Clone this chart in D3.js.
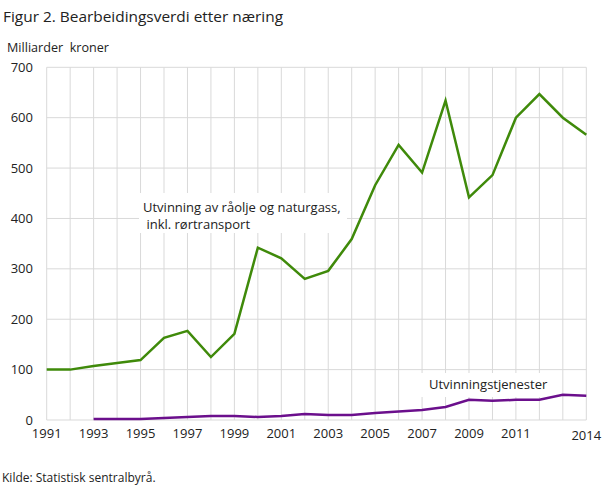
<!DOCTYPE html>
<html><head><meta charset="utf-8">
<script src="https://cdn.jsdelivr.net/npm/d3@7"></script>
<style>body{margin:0;background:#fff;} text{font-family:"Open Sans",sans-serif;}</style>
</head><body>
<svg id="c" width="609" height="488"></svg>
<script>
const years = d3.range(1991, 2015);
const olje = [100,100,107,113,119,163,177,125,171,342,321,280,296,359,466,546,491,634,442,486,600,647,600,566];
const tjenesterYears = d3.range(1993, 2015);
const tjenester = [2,2,2,4,6,8,8,6,8,12,10,10,14,17,20,26,40,38,40,40,50,48];
const yTicks = [0,100,200,300,400,500,600,700];
const xTickLabels = [1991,1993,1995,1997,1999,2001,2003,2005,2007,2009,2011,2014];

const svg = d3.select("#c");
const x = d3.scaleLinear().domain([1991,2014]).range([46.7,586.3]);
const y = d3.scaleLinear().domain([0,700]).range([420,67.3]);

svg.append("text").attr("x",3).attr("y",22).attr("font-size",15.2).attr("fill","#222")
 .attr("textLength",280).attr("lengthAdjust","spacingAndGlyphs").text("Figur 2. Bearbeidingsverdi etter næring");
svg.append("text").attr("x",7).attr("y",52).attr("font-size",12.5).attr("fill","#222").attr("xml:space","preserve")
 .attr("textLength",102).attr("lengthAdjust","spacingAndGlyphs").text("Milliarder  kroner");

const g = svg.append("g");
g.selectAll(".hg").data(yTicks).join("line").attr("x1",x(1991)).attr("x2",x(2014))
 .attr("y1",d=>y(d)).attr("y2",d=>y(d)).attr("stroke","#d9d9d9").attr("stroke-width",1);
g.selectAll(".vg").data(years).join("line").attr("x1",d=>x(d)).attr("x2",d=>x(d))
 .attr("y1",y(700)).attr("y2",y(0)).attr("stroke","#d9d9d9").attr("stroke-width",1);

// label boxes hiding grid
svg.append("rect").attr("x",139).attr("y",193).attr("width",208).attr("height",40).attr("fill","#fff");
svg.append("rect").attr("x",418).attr("y",373).attr("width",132).attr("height",24).attr("fill","#fff");

svg.selectAll(".yl").data(yTicks).join("text").attr("x",33).attr("y",d=>y(d)+4.5)
 .attr("text-anchor","end").attr("font-size",13).attr("fill","#222").text(d=>d);
svg.selectAll(".xl").data(xTickLabels).join("text").attr("x",d=>x(d)).attr("y",d=>d===2014?440:438)
 .attr("text-anchor","middle").attr("font-size",13).attr("fill","#222").text(d=>d);

const line = d3.line().x(d=>x(d[0])).y(d=>y(d[1]));
svg.append("path").datum(tjenesterYears.map((yr,i)=>[yr,tjenester[i]])).attr("d",line)
 .attr("fill","none").attr("stroke","#6b0f8c").attr("stroke-width",2.5);
svg.append("path").datum(years.map((yr,i)=>[yr,olje[i]])).attr("d",line)
 .attr("fill","none").attr("stroke","#3f8a0a").attr("stroke-width",2.5);

svg.append("text").attr("x",143).attr("y",212).attr("font-size",13).attr("fill","#222").text("Utvinning av råolje og naturgass,");
svg.append("text").attr("x",143).attr("y",229).attr("font-size",13).attr("fill","#222").attr("xml:space","preserve").text(" inkl. rørtransport");
svg.append("text").attr("x",429).attr("y",389).attr("font-size",13).attr("fill","#222").text("Utvinningstjenester");

svg.append("text").attr("x",2).attr("y",482).attr("font-size",12).attr("fill","#222").text("Kilde: Statistisk sentralbyrå.");
</script>
</body></html>
